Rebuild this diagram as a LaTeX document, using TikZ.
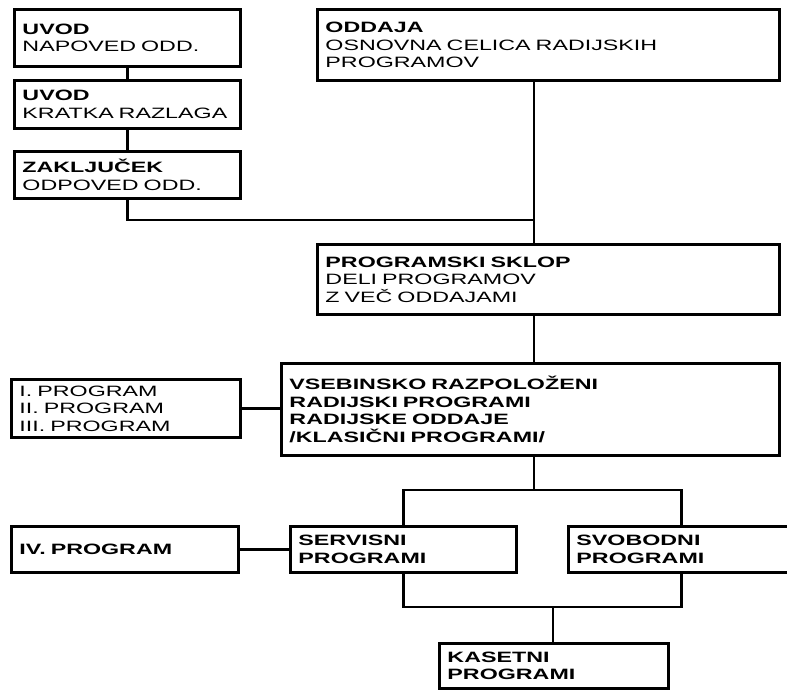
\documentclass[tikz,border=0pt]{standalone}
\usepackage{fontspec}
\setmainfont{Liberation Sans}[FakeStretch=1.55]

\begin{document}
\begin{tikzpicture}[x=0.75pt, y=-0.75pt,
    box/.style={draw, line width=2.2pt, anchor=north west, align=left,
      inner xsep=6pt, inner ysep=0pt, font=\fontsize{11.25}{13.2}\selectfont},
    link/.style={line width=2pt}]
  \useasboundingbox (0,0) rectangle (787,689);
  \clip (0,0) rectangle (787,689);

  % left column
  \node[box, text width=157.5pt, minimum height=42.75pt] (uvodA) at (13,8) {\textbf{UVOD}\\NAPOVED ODD.};
  \node[box, text width=157.5pt, minimum height=36pt] (uvodB) at (13,79) {\textbf{UVOD}\\KRATKA RAZLAGA};
  \node[box, text width=157.5pt, minimum height=35.25pt] (zakljucek) at (13,150) {\textbf{ZAKLJUČEK}\\ODPOVED ODD.};

  % main column
  \node[box, text width=334.5pt, minimum height=53.25pt] (oddaja) at (316,8) {\textbf{ODDAJA}\\OSNOVNA CELICA RADIJSKIH\\PROGRAMOV};
  \node[box, text width=334.5pt, minimum height=52.5pt] (sklop) at (316,243) {\textbf{PROGRAMSKI SKLOP}\\DELI PROGRAMOV\\Z VEČ ODDAJAMI};
  \node[box, text width=361.5pt, minimum height=69pt] (vsebina) at (280,362) {\textbf{VSEBINSKO RAZPOLOŽENI}\\\textbf{RADIJSKI PROGRAMI}\\\textbf{RADIJSKE ODDAJE}\\\textbf{/KLASIČNI PROGRAMI/}};
  \node[box, text width=159.75pt, minimum height=43.5pt] (programi) at (10,378) {I. PROGRAM\\II. PROGRAM\\III. PROGRAM};

  % bottom row
  \node[box, text width=158.25pt, minimum height=34.5pt] (cetrti) at (10,525) {\textbf{IV. PROGRAM}};
  \node[box, text width=157.5pt, minimum height=34.5pt] (servisni) at (289,525) {\textbf{SERVISNI}\\\textbf{PROGRAMI}};
  \node[box, text width=157.5pt, minimum height=34.5pt] (svobodni) at (567,525) {\textbf{SVOBODNI}\\\textbf{PROGRAMI}};
  \node[box, text width=159.75pt, minimum height=33.75pt] (kasetni) at (438,642) {\textbf{KASETNI}\\\textbf{PROGRAMI}};

  % joints
  \coordinate (j1) at (534,220);
  \coordinate (j2) at (534,490);
  \coordinate (j3) at (553,607);

  \draw[link] (uvodA) -- (uvodB);
  \draw[link] (uvodB) -- (zakljucek);
  \draw[link] (zakljucek.south) |- (j1);
  \draw[link] (oddaja.south -| j1) -- (sklop.north -| j1);
  \draw[link] (sklop.south -| j1) -- (vsebina.north -| j1);
  \draw[link] (programi.east) -- (programi.east -| vsebina.west);
  \draw[link] (vsebina.south -| j2) -- (j2);
  \draw[link] (servisni.north) |- (j2) -| (svobodni.north);
  \draw[link] (cetrti) -- (servisni);
  \draw[link] (servisni.south) |- (j3) -| (svobodni.south);
  \draw[link] (j3) -- (kasetni.north -| j3);
\end{tikzpicture}
\end{document}
